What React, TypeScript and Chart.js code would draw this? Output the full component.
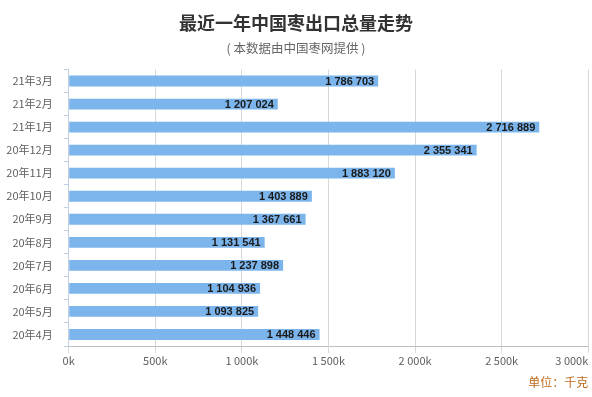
import React, { useEffect, useRef } from "react";
import { Chart, registerables } from "chart.js";

Chart.register(...registerables);

const titleText = "最近一年中国枣出口总量走势";
const subtitleText = "( 本数据由中国枣网提供 )";
const unitText = "单位：千克";

const categories = [
  "21年3月", "21年2月", "21年1月", "20年12月", "20年11月", "20年10月",
  "20年9月", "20年8月", "20年7月", "20年6月", "20年5月", "20年4月",
];
const exportValues = [
  1786703, 1207024, 2716889, 2355341, 1883120, 1403889,
  1367661, 1131541, 1237898, 1104936, 1093825, 1448446,
];
const xTickValues = [0, 500000, 1000000, 1500000, 2000000, 2500000, 3000000];

const groupDigits = (n: number) =>
  String(n).replace(/\B(?=(\d{3})+(?!\d))/g, " ");
const kLabel = (v: number) => groupDigits(v / 1000) + "k";

const CJK = '"Noto Sans CJK SC", "Liberation Sans", sans-serif';

const decorPlugin = {
  id: "decor",
  afterDraw(chart: any) {
    const ctx = chart.ctx as CanvasRenderingContext2D;
    const area = chart.chartArea;
    const xs = chart.scales.x;
    ctx.save();
    // title
    ctx.textAlign = "center";
    ctx.textBaseline = "middle";
    ctx.fillStyle = "#333333";
    ctx.font = `bold 18px ${CJK}`;
    ctx.fillText(titleText, chart.width / 2, 23);
    ctx.fillStyle = "#666666";
    ctx.font = `12.5px ${CJK}`;
    ctx.fillText(subtitleText, chart.width / 2, 48);

    // x tick labels
    ctx.font = `11px ${CJK}`;
    ctx.fillStyle = "#606060";
    xTickValues.forEach((v) => {
      const px = xs.getPixelForValue(v);
      const label = kLabel(v);
      const w = ctx.measureText(label).width;
      let cx = px;
      if (cx + w / 2 > area.right) cx = area.right - w / 2;
      ctx.textAlign = "center";
      ctx.fillText(label, cx, 361);
    });

    // unit
    ctx.textAlign = "right";
    ctx.fillStyle = "#c06a1c";
    ctx.font = `12px ${CJK}`;
    ctx.fillText(unitText, area.right, 382);

    // value labels
    const meta = chart.getDatasetMeta(0);
    ctx.font = `bold 11px "Liberation Sans", Arial, sans-serif`;
    ctx.fillStyle = "#1a1a1a";
    ctx.textAlign = "right";
    meta.data.forEach((bar: any, i: number) => {
      ctx.fillText(groupDigits(exportValues[i]), bar.x - 4, bar.y + 0.5);
    });
    ctx.restore();
  },
};

export default function App() {
  const ref = useRef<HTMLCanvasElement | null>(null);
  useEffect(() => {
    if (!ref.current) return;
    const chart = new Chart(ref.current, {
      type: "bar",
      data: {
        labels: categories,
        datasets: [
          {
            data: exportValues,
            backgroundColor: "#7cb5ec",
            borderWidth: 0,
            barPercentage: 0.47,
            categoryPercentage: 1,
          },
        ],
      },
      options: {
        indexAxis: "y",
        responsive: false,
        animation: false,
        layout: { padding: { top: 69.5, right: 3.7, left: 0, bottom: 0 } },
        plugins: {
          legend: { display: false },
          tooltip: { enabled: false },
          title: { display: false },
        },
        scales: {
          x: {
            min: 0,
            max: 3000000,
            ticks: { display: false, stepSize: 500000 },
            grid: { color: "#d8d8d8", tickLength: 7, lineWidth: 1 },
            border: { color: "#c0c0c0" },
            afterFit(scale: any) {
              scale.height = 51;
              scale.paddingLeft = 0;
              scale.paddingRight = 0;
            },
          },
          y: {
            ticks: {
              color: "#606060",
              font: { size: 11, family: CJK },
              padding: 11,
            },
            grid: {
              drawOnChartArea: false,
              tickLength: 5,
              color: "#c0d0e0",
              offset: true,
            },
            border: { color: "#c0d0e0" },
            afterFit(scale: any) {
              scale.width = 68.7;
            },
          },
        },
      },
      plugins: [decorPlugin],
    } as any);
    return () => chart.destroy();
  }, []);
  return (
    <div style={{ position: "absolute", left: 0, top: 0, width: 592, height: 397, background: "#ffffff" }}>
      <canvas ref={ref} width={592} height={397} style={{ display: "block", width: 592, height: 397 }} />
    </div>
  );
}
